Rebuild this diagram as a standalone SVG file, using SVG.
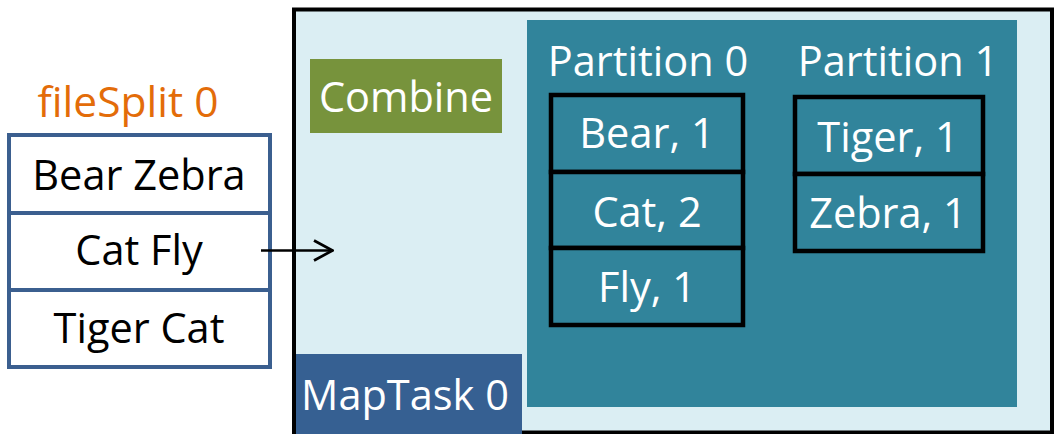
<svg xmlns="http://www.w3.org/2000/svg" width="1057" height="434" viewBox="0 0 1057 434">
<style>
text{font-family:"Open Sans","Liberation Sans",sans-serif;font-size:41.5px;text-anchor:middle}
.w{fill:#ffffff}
.k{fill:#000000}
.cell{fill:#ffffff;stroke:#3B5F8F;stroke-width:4}
.pcell{fill:#31849B;stroke:#000000;stroke-width:4.5}
</style>
<defs>
<marker id="open" viewBox="0 0 22 24" refX="21" refY="12" markerWidth="22" markerHeight="24" markerUnits="userSpaceOnUse" orient="auto">
<path d="M2,2 L20.5,12 L2,22" fill="none" stroke="#000" stroke-width="2.7"/>
</marker>
</defs>
<g id="mapTask">
<rect x="294" y="9.5" width="758" height="423" fill="#DBEEF3" stroke="#000" stroke-width="4"/>
</g>
<g id="partitions">
<rect x="527" y="20" width="490" height="387" fill="#31849B"/>
</g>
<g id="combine">
<rect x="310" y="59" width="192" height="74" fill="#77933C"/>
<text x="406" y="112" class="w">Combine</text>
</g>
<g id="mapTaskLabel">
<rect x="296" y="354" width="226" height="80" fill="#366092"/>
<text x="405" y="410" class="w">MapTask 0</text>
</g>
<g id="partition0">
<text x="648" y="76" class="w">Partition 0</text>
<rect x="551" y="95" width="192" height="77" class="pcell"/>
<rect x="551" y="172" width="192" height="76" class="pcell"/>
<rect x="551" y="248" width="192" height="77" class="pcell"/>
<text x="647" y="148" class="w">Bear, 1</text>
<text x="647" y="227" class="w">Cat, 2</text>
<text x="647" y="302" class="w">Fly, 1</text>
</g>
<g id="partition1">
<text x="898" y="76" class="w">Partition 1</text>
<rect x="795" y="97" width="188" height="77" class="pcell"/>
<rect x="795" y="174" width="188" height="77" class="pcell"/>
<text x="888" y="152" class="w">Tiger, 1</text>
<text x="888" y="228" class="w">Zebra, 1</text>
</g>
<g id="fileSplit">
<text x="128" y="117" fill="#E36C09" style="font-size:42.5px">fileSplit 0</text>
<rect x="9" y="135" width="261" height="78" class="cell"/>
<rect x="9" y="213" width="261" height="77" class="cell"/>
<rect x="9" y="290" width="261" height="77" class="cell"/>
<text x="139" y="190" class="k">Bear Zebra</text>
<text x="139" y="265" class="k">Cat Fly</text>
<text x="139" y="343" class="k">Tiger Cat</text>
</g>
<g id="connectors">
<line x1="261" y1="250.5" x2="333" y2="250.5" stroke="#000" stroke-width="2.5" marker-end="url(#open)"/>
</g>
</svg>
